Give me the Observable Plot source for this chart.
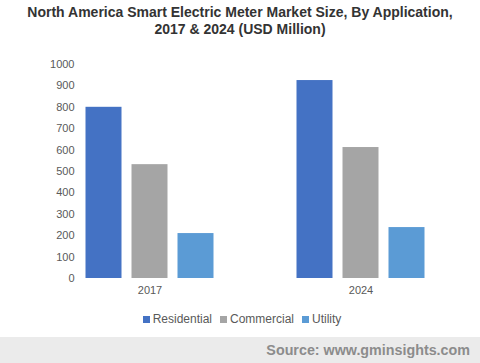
<!DOCTYPE html>
<html>
<head>
<meta charset="utf-8">
<script src="https://cdn.jsdelivr.net/npm/d3@7"></script>
<script src="https://cdn.jsdelivr.net/npm/@observablehq/plot@0.6"></script>
<style>
  html, body { margin: 0; padding: 0; background: #fff; }
  body { width: 480px; height: 363px; position: relative; overflow: hidden; font-family: "Liberation Sans", Arial, sans-serif; }
  #title { position: absolute; top: 4px; left: 0; width: 480px; text-align: center; font-weight: bold; font-size: 14px; line-height: 17px; color: #333; }
  #chart { position: absolute; top: 38px; left: 0; }
  #legend { position: absolute; top: 311px; left: 2px; width: 480px; display: flex; justify-content: center; font-size: 12px; color: #595959; line-height: 16px; }
  #legend .item { display: flex; align-items: center; margin: 0 4px; }
  #legend .sw { width: 7px; height: 7px; margin-right: 3px; }
  #source { position: absolute; top: 337px; left: 0; width: 480px; height: 26px; background: #ebebeb; }
  #source span { position: absolute; right: 10px; top: 5px; font-weight: bold; font-size: 14.3px; color: #8c8c8c; }
</style>
</head>
<body>
<div id="title">North America Smart Electric Meter Market Size, By Application,<br>2017 &amp; 2024 (USD Million)</div>
<div id="chart"></div>
<div id="legend"></div>
<div id="source"><span>Source: www.gminsights.com</span></div>
<script>
const years = ["2017", "2024"];
const categories = ["Residential", "Commercial", "Utility"];
const colors = ["#4472C4", "#A5A5A5", "#5B9BD5"];
const residential = [800, 925];
const commercial = [532, 612];
const utility = [210, 238];
const yTicks = [0, 100, 200, 300, 400, 500, 600, 700, 800, 900, 1000];

const series = [residential, commercial, utility];
const data = [];
years.forEach((yr, i) => {
  categories.forEach((c, j) => data.push({year: yr, category: c, value: series[j][i]}));
});

const chart = Plot.plot({
  width: 480,
  height: 262,
  marginTop: 26,
  marginBottom: 22,
  marginLeft: 43.5,
  marginRight: 14.5,
  style: {fontFamily: "'Liberation Sans', Arial, sans-serif", fontSize: "11px", color: "#595959", background: "transparent"},
  fx: {domain: years, paddingInner: 0.38, paddingOuter: 0.19, label: null},
  x: {domain: categories, paddingInner: 0.21, paddingOuter: 0, axis: null},
  y: {domain: [0, 1000], label: null},
  color: {domain: categories, range: colors},
  marks: [
    Plot.axisY({ticks: yTicks, tickFormat: d => String(d), tickSize: 0, tickPadding: 10, label: null, fill: "#595959", fontSize: 11}),
    Plot.axisFx({anchor: "bottom", tickSize: 0, tickPadding: 8, label: null, fill: "#595959", fontSize: 11}),
    Plot.barY(data, {fx: "year", x: "category", y: "value", fill: "category"})
  ]
});
document.getElementById("chart").appendChild(chart);

const legend = document.getElementById("legend");
categories.forEach((c, i) => {
  const item = document.createElement("div");
  item.className = "item";
  const sw = document.createElement("div");
  sw.className = "sw";
  sw.style.background = colors[i];
  const t = document.createElement("span");
  t.textContent = c;
  item.appendChild(sw);
  item.appendChild(t);
  legend.appendChild(item);
});
</script>
</body>
</html>
